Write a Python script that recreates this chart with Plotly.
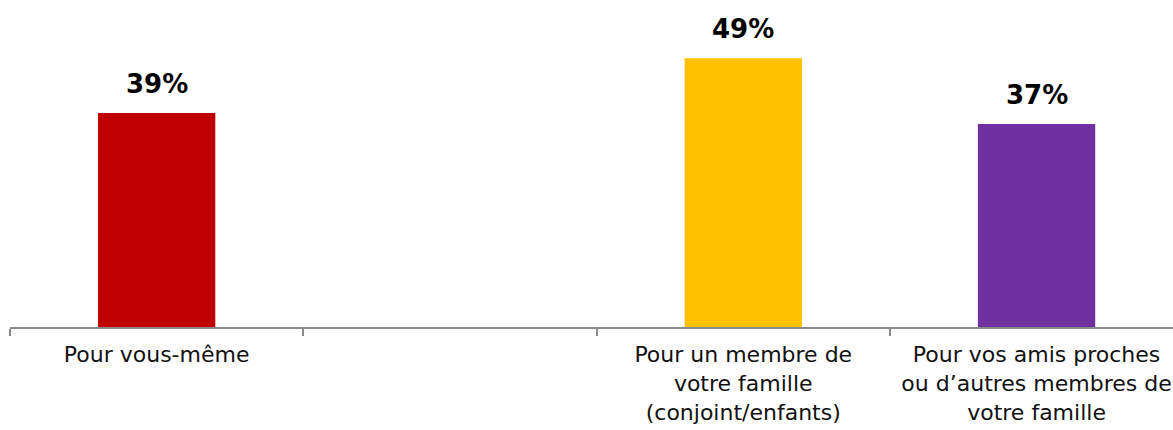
import plotly.graph_objects as go

categories = ["Pour vous-même", " ", "Pour un membre de<br>votre famille<br>(conjoint/enfants)",
              "Pour vos amis proches<br>ou d’autres membres de<br>votre famille"]
values = [39, None, 49, 37]
labels = ["39%", "", "49%", "37%"]
colors = ["#C00000", "#FFFFFF", "#FFC000", "#7030A0"]

fig = go.Figure()
fig.add_trace(go.Bar(x=categories, y=values, marker=dict(color=colors, line=dict(width=0)),
                     width=0.4, hoverinfo="skip"))

for c, v, t in zip(categories, values, labels):
    if v is not None:
        fig.add_annotation(x=c, y=v, text="<b>" + t + "</b>", showarrow=False,
                           yanchor="bottom", yshift=12,
                           font=dict(family="DejaVu Sans, sans-serif", size=26, color="#000000"))

cat_w = (1173 - 10) / 293.3
fig.update_layout(
    width=1173, height=430,
    margin=dict(l=10, r=0, t=0, b=103),
    paper_bgcolor="white", plot_bgcolor="white",
    showlegend=False,
    bargap=0.6,
    font=dict(family="DejaVu Sans, sans-serif", size=22, color="#000000"),
)
fig.update_xaxes(
    type="category", range=[-0.5, -0.5 + cat_w], tickson="boundaries",
    showline=True, linecolor="#898989", linewidth=2,
    ticks="outside", ticklen=7, tickwidth=2, tickcolor="#898989",
    showgrid=False, automargin=False, tickfont=dict(size=22, color="#111111"),
    ticklabelstandoff=7,
)
fig.update_yaxes(range=[0, 59.6], visible=False, showgrid=False, zeroline=False)

fig.write_html("out.html")
